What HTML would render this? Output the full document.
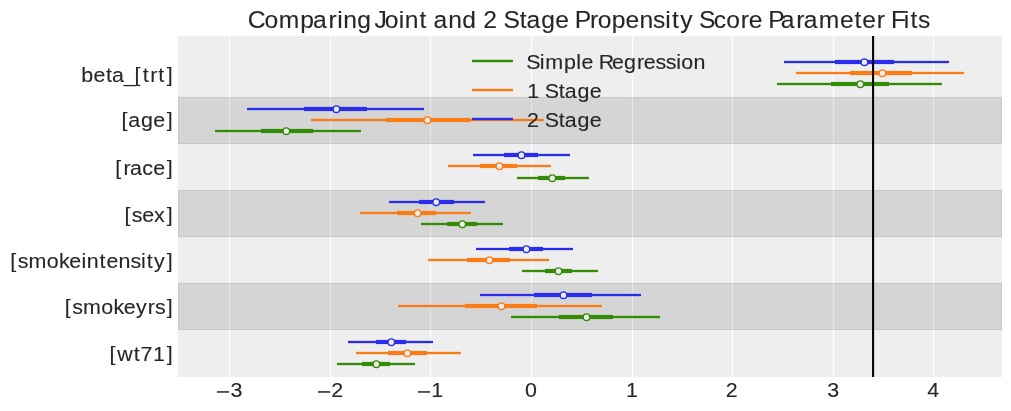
<!DOCTYPE html>
<html><head><meta charset="utf-8"><style>
html,body{margin:0;padding:0;background:#fff;width:1011px;height:411px;overflow:hidden}
svg{display:block;will-change:transform}
.t{font-family:"Liberation Sans",sans-serif;fill:#262626;stroke:#262626;stroke-width:0.1px}
</style></head><body>
<svg width="1011" height="411" viewBox="0 0 1011 411">
<rect x="178" y="36" width="824" height="341" fill="#eeeeee"/>
<rect x="228.9" y="36" width="1.2" height="341" fill="#ffffff"/>
<rect x="329.9" y="36" width="1.2" height="341" fill="#ffffff"/>
<rect x="429.9" y="36" width="1.2" height="341" fill="#ffffff"/>
<rect x="530.9" y="36" width="1.2" height="341" fill="#ffffff"/>
<rect x="631.9" y="36" width="1.2" height="341" fill="#ffffff"/>
<rect x="731.9" y="36" width="1.2" height="341" fill="#ffffff"/>
<rect x="832.9" y="36" width="1.2" height="341" fill="#ffffff"/>
<rect x="932.9" y="36" width="1.2" height="341" fill="#ffffff"/>
<rect x="178" y="97" width="824" height="47" fill="#000" fill-opacity="0.1"/>
<rect x="178.5" y="97.5" width="823" height="46" fill="none" stroke="#000" stroke-opacity="0.06" stroke-width="1"/>
<rect x="178" y="190" width="824" height="47" fill="#000" fill-opacity="0.1"/>
<rect x="178.5" y="190.5" width="823" height="46" fill="none" stroke="#000" stroke-opacity="0.06" stroke-width="1"/>
<rect x="178" y="283" width="824" height="47" fill="#000" fill-opacity="0.1"/>
<rect x="178.5" y="283.5" width="823" height="46" fill="none" stroke="#000" stroke-opacity="0.06" stroke-width="1"/>
<rect x="784" y="60.85" width="165" height="2.3" fill="#2a2eec"/>
<rect x="835" y="59.90" width="59" height="4.2" fill="#2a2eec"/>
<circle cx="864.4" cy="62.20" r="3.30" fill="#eeeeee" stroke="#2a2eec" stroke-width="1.4"/>
<rect x="796" y="71.85" width="168" height="2.3" fill="#fa7c17"/>
<rect x="850" y="70.90" width="62" height="4.2" fill="#fa7c17"/>
<circle cx="882.4" cy="73.20" r="3.30" fill="#eeeeee" stroke="#fa7c17" stroke-width="1.4"/>
<rect x="777" y="82.85" width="165" height="2.3" fill="#328c06"/>
<rect x="831" y="81.90" width="58" height="4.2" fill="#328c06"/>
<circle cx="860.3" cy="84.20" r="3.30" fill="#eeeeee" stroke="#328c06" stroke-width="1.4"/>
<rect x="247" y="107.85" width="177" height="2.3" fill="#2a2eec"/>
<rect x="304" y="106.90" width="63" height="4.2" fill="#2a2eec"/>
<circle cx="336.4" cy="109.20" r="3.30" fill="#eeeeee" stroke="#2a2eec" stroke-width="1.4"/>
<rect x="311" y="118.85" width="233" height="2.3" fill="#fa7c17"/>
<rect x="386" y="117.90" width="84" height="4.2" fill="#fa7c17"/>
<circle cx="427.4" cy="120.20" r="3.30" fill="#eeeeee" stroke="#fa7c17" stroke-width="1.4"/>
<rect x="215" y="129.85" width="146" height="2.3" fill="#328c06"/>
<rect x="261" y="128.90" width="52" height="4.2" fill="#328c06"/>
<circle cx="286.3" cy="131.20" r="3.30" fill="#eeeeee" stroke="#328c06" stroke-width="1.4"/>
<rect x="473" y="153.85" width="97" height="2.3" fill="#2a2eec"/>
<rect x="504" y="152.90" width="34" height="4.2" fill="#2a2eec"/>
<circle cx="521.5" cy="155.20" r="3.30" fill="#eeeeee" stroke="#2a2eec" stroke-width="1.4"/>
<rect x="448" y="164.85" width="103" height="2.3" fill="#fa7c17"/>
<rect x="480" y="163.90" width="37" height="4.2" fill="#fa7c17"/>
<circle cx="499.5" cy="166.20" r="3.30" fill="#eeeeee" stroke="#fa7c17" stroke-width="1.4"/>
<rect x="517" y="176.85" width="72" height="2.3" fill="#328c06"/>
<rect x="538" y="175.90" width="27" height="4.2" fill="#328c06"/>
<circle cx="552.3" cy="178.20" r="3.30" fill="#eeeeee" stroke="#328c06" stroke-width="1.4"/>
<rect x="389" y="200.85" width="96" height="2.3" fill="#2a2eec"/>
<rect x="419" y="199.90" width="35" height="4.2" fill="#2a2eec"/>
<circle cx="436.2" cy="202.20" r="3.30" fill="#eeeeee" stroke="#2a2eec" stroke-width="1.4"/>
<rect x="360" y="211.85" width="111" height="2.3" fill="#fa7c17"/>
<rect x="397" y="210.90" width="39" height="4.2" fill="#fa7c17"/>
<circle cx="417.6" cy="213.20" r="3.30" fill="#eeeeee" stroke="#fa7c17" stroke-width="1.4"/>
<rect x="421" y="222.85" width="82" height="2.3" fill="#328c06"/>
<rect x="447" y="221.90" width="30" height="4.2" fill="#328c06"/>
<circle cx="462.3" cy="224.20" r="3.30" fill="#eeeeee" stroke="#328c06" stroke-width="1.4"/>
<rect x="476" y="247.85" width="97" height="2.3" fill="#2a2eec"/>
<rect x="509" y="246.90" width="34" height="4.2" fill="#2a2eec"/>
<circle cx="526.4" cy="249.20" r="3.30" fill="#eeeeee" stroke="#2a2eec" stroke-width="1.4"/>
<rect x="428" y="258.85" width="121" height="2.3" fill="#fa7c17"/>
<rect x="467" y="257.90" width="43" height="4.2" fill="#fa7c17"/>
<circle cx="489.5" cy="260.20" r="3.30" fill="#eeeeee" stroke="#fa7c17" stroke-width="1.4"/>
<rect x="522" y="269.85" width="76" height="2.3" fill="#328c06"/>
<rect x="545" y="268.90" width="27" height="4.2" fill="#328c06"/>
<circle cx="558.5" cy="271.20" r="3.30" fill="#eeeeee" stroke="#328c06" stroke-width="1.4"/>
<rect x="480" y="293.85" width="161" height="2.3" fill="#2a2eec"/>
<rect x="534" y="292.90" width="58" height="4.2" fill="#2a2eec"/>
<circle cx="563.5" cy="295.20" r="3.30" fill="#eeeeee" stroke="#2a2eec" stroke-width="1.4"/>
<rect x="398" y="304.85" width="204" height="2.3" fill="#fa7c17"/>
<rect x="465" y="303.90" width="72" height="4.2" fill="#fa7c17"/>
<circle cx="501.5" cy="306.20" r="3.30" fill="#eeeeee" stroke="#fa7c17" stroke-width="1.4"/>
<rect x="511" y="315.85" width="149" height="2.3" fill="#328c06"/>
<rect x="559" y="314.90" width="54" height="4.2" fill="#328c06"/>
<circle cx="586.5" cy="317.20" r="3.30" fill="#eeeeee" stroke="#328c06" stroke-width="1.4"/>
<rect x="348" y="340.85" width="85" height="2.3" fill="#2a2eec"/>
<rect x="376" y="339.90" width="30" height="4.2" fill="#2a2eec"/>
<circle cx="391.3" cy="342.20" r="3.30" fill="#eeeeee" stroke="#2a2eec" stroke-width="1.4"/>
<rect x="356" y="351.85" width="105" height="2.3" fill="#fa7c17"/>
<rect x="388" y="350.90" width="39" height="4.2" fill="#fa7c17"/>
<circle cx="407.3" cy="353.20" r="3.30" fill="#eeeeee" stroke="#fa7c17" stroke-width="1.4"/>
<rect x="337" y="362.85" width="78" height="2.3" fill="#328c06"/>
<rect x="362" y="361.90" width="28" height="4.2" fill="#328c06"/>
<circle cx="376.4" cy="364.20" r="3.30" fill="#eeeeee" stroke="#328c06" stroke-width="1.4"/>
<rect x="872.05" y="36" width="2.05" height="341" fill="#000"/>
<rect x="472" y="59.8" width="41" height="2.4" fill="#328c06"/>
<text x="478.39 490.64 495.79 512.70 523.87 528.54 531.54 544.30 556.42 567.30 579.09 585.34 596.00 605.18 614.75 619.35 630.38" y="68.8" class="t" font-size="19.5" transform="scale(1.1,1)">Simple Regression</text>
<rect x="472" y="88.8" width="41" height="2.4" fill="#fa7c17"/>
<text x="479.28 482.28 495.19 507.89 513.41 524.96 536.10" y="97.7" class="t" font-size="19.5" transform="scale(1.1,1)">1 Stage</text>
<rect x="472" y="117.8" width="41" height="2.4" fill="#2a2eec"/>
<text x="479.14 482.14 495.19 507.89 513.41 524.96 536.10" y="126.6" class="t" font-size="19.5" transform="scale(1.1,1)">2 Stage</text>
<text x="247.72 264.53 278.80 300.20 313.07 328.50 337.13 343.18 357.14 360.14 374.46 384.77 398.78 404.84 419.57 422.57 433.59 448.37 462.32 465.32 483.37 486.37 503.62 519.65 526.60 541.23 555.30 558.30 574.87 589.96 597.68 611.67 625.49 639.38 653.06 665.20 671.88 680.16 683.16 698.95 713.79 726.30 740.84 748.64 751.64 768.20 780.87 796.30 803.65 818.81 839.91 854.42 862.32 876.86 879.86 890.98 903.73 910.41 918.08" y="27.8" class="t" font-size="24.65">Comparing Joint and 2 Stage Propensity Score Parameter Fits</text>
<text x="73.93 84.89 96.39 101.91 112.40 122.19 129.77 136.66 143.92 151.55" y="81.6" class="t" font-size="19.5" transform="scale(1.1,1)">beta_[trt]</text>
<text x="110.44 116.63 128.18 139.32 151.55" y="127.5" class="t" font-size="19.5" transform="scale(1.1,1)">[age]</text>
<text x="104.69 112.25 118.12 129.35 139.32 151.55" y="174.7" class="t" font-size="19.5" transform="scale(1.1,1)">[race]</text>
<text x="113.15 119.89 129.24 140.01 151.55" y="221.9" class="t" font-size="19.5" transform="scale(1.1,1)">[sex]</text>
<text x="9.42 16.16 25.98 42.59 53.74 62.96 74.02 78.87 90.52 96.76 107.77 118.59 128.16 133.50 140.01 151.55" y="267.7" class="t" font-size="19.5" transform="scale(1.1,1)">[smokeintensity]</text>
<text x="58.94 65.68 75.50 92.11 103.26 112.48 123.59 134.39 140.81 151.55" y="313.8" class="t" font-size="19.5" transform="scale(1.1,1)">[smokeyrs]</text>
<text x="99.52 106.55 121.51 127.83 138.99 151.55" y="360.7" class="t" font-size="19.5" transform="scale(1.1,1)">[wt71]</text>
<rect x="216.95" y="391.2" width="12.2" height="1.5" fill="#262626"/>
<text x="209.54" y="397.5" class="t" font-size="19.5" transform="scale(1.1,1)">3</text>
<rect x="317.95" y="391.2" width="12.2" height="1.5" fill="#262626"/>
<text x="301.08" y="397.5" class="t" font-size="19.5" transform="scale(1.1,1)">2</text>
<rect x="417.95" y="391.2" width="12.2" height="1.5" fill="#262626"/>
<text x="392.12" y="397.5" class="t" font-size="19.5" transform="scale(1.1,1)">1</text>
<text x="477.38" y="397.5" class="t" font-size="19.5" transform="scale(1.1,1)">0</text>
<text x="569.11" y="397.5" class="t" font-size="19.5" transform="scale(1.1,1)">1</text>
<text x="659.88" y="397.5" class="t" font-size="19.5" transform="scale(1.1,1)">2</text>
<text x="751.98" y="397.5" class="t" font-size="19.5" transform="scale(1.1,1)">3</text>
<text x="842.87" y="397.5" class="t" font-size="19.5" transform="scale(1.1,1)">4</text>
</svg>
</body></html>
